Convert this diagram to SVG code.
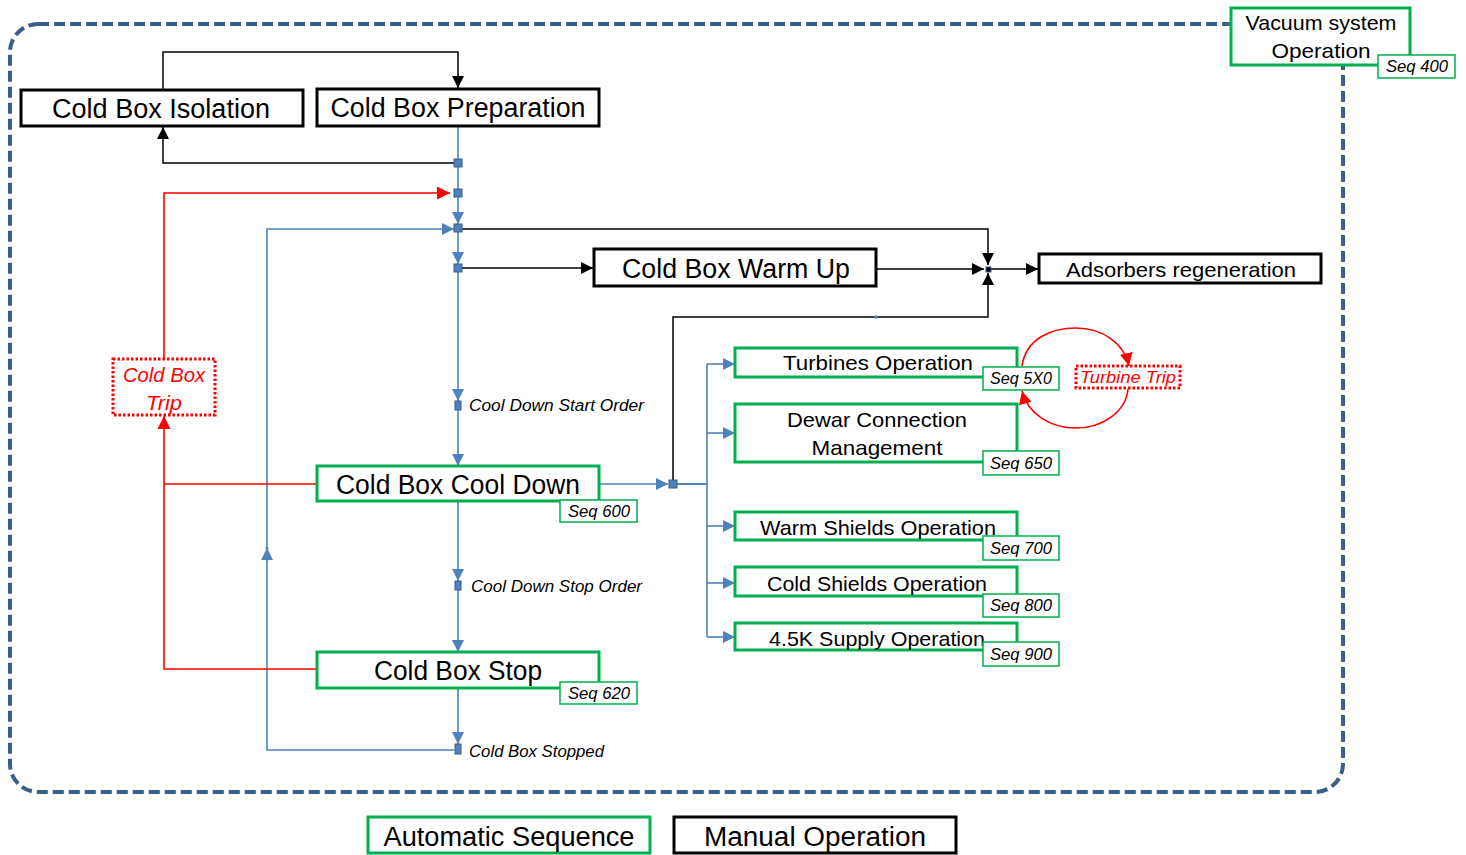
<svg xmlns="http://www.w3.org/2000/svg" width="1466" height="855" viewBox="0 0 1466 855">
<style>
.bg{fill:#fff}
.frame{fill:none;stroke:#3b5d8a;stroke-width:4;stroke-dasharray:11 5}
.man{fill:#fff;stroke:#000;stroke-width:3}
.auto{fill:#fff;stroke:#00b050;stroke-width:3}
.seq{fill:#fff;stroke:#00b050;stroke-width:1.5}
.trip{fill:#fff;stroke:#ff0000;stroke-width:3;stroke-dasharray:2.5 2}
.t{font-family:"Liberation Sans",Arial,sans-serif;fill:#000;text-anchor:middle}
.big{font-size:27px}
.mid{font-size:21px}
.sq{font-family:"Liberation Sans",Arial,sans-serif;font-style:italic;font-size:16px;fill:#000;text-anchor:middle}
.lbl{font-family:"Liberation Sans",Arial,sans-serif;font-style:italic;font-size:16px;fill:#000}
.red{fill:#ff0000;font-style:italic}
.cb{fill:none;stroke:#4f81bd;stroke-width:1.6}
.ck{fill:none;stroke:#000;stroke-width:1.5}
.cr{fill:none;stroke:#ff0000;stroke-width:1.6}
.jn{fill:#4f81bd;stroke:#385d8a;stroke-width:1}
</style>
<defs>
<marker id="ab" viewBox="0 0 10 10" refX="10" refY="5" markerWidth="12" markerHeight="12" markerUnits="userSpaceOnUse" orient="auto"><path d="M0,0 L10,5 L0,10 z" fill="#4f81bd"/></marker>
<marker id="ak" viewBox="0 0 10 10" refX="10" refY="5" markerWidth="12" markerHeight="12" markerUnits="userSpaceOnUse" orient="auto"><path d="M0,0 L10,5 L0,10 z" fill="#000"/></marker>
<marker id="ar" viewBox="0 0 10 10" refX="10" refY="5" markerWidth="13" markerHeight="13" markerUnits="userSpaceOnUse" orient="auto"><path d="M0,0 L10,5 L0,10 z" fill="#ff0000"/></marker>
</defs>
<rect class="bg" x="0" y="0" width="1466" height="855"/>
<rect class="frame" x="10" y="24" width="1333" height="768" rx="28"/>

<g id="connectors">
<path class="ck" d="M163,90 V52 H458 V88" marker-end="url(#ak)"/>
<path class="ck" d="M458,163 H163 V127" marker-end="url(#ak)"/>
<path class="ck" d="M462,229 H988 V265" marker-end="url(#ak)"/>
<path class="ck" d="M462,268 H593" marker-end="url(#ak)"/>
<path class="ck" d="M877,269 L984,269" marker-end="url(#ak)"/>
<path class="ck" d="M991,269 H1038" marker-end="url(#ak)"/>
<path class="ck" d="M673,480 V317 H988 V273" marker-end="url(#ak)"/>
<circle cx="876" cy="317" r="1.8" fill="#4f81bd"/>
<path class="cb" d="M458,126 V197"/>
<path class="cb" d="M458,197 V224" marker-end="url(#ab)"/>
<path class="cb" d="M458,232 V264" marker-end="url(#ab)"/>
<path class="cb" d="M458,272 V401" marker-end="url(#ab)"/>
<path class="cb" d="M458,410 V466" marker-end="url(#ab)"/>
<path class="cb" d="M458,502 V581" marker-end="url(#ab)"/>
<path class="cb" d="M458,590 V652" marker-end="url(#ab)"/>
<path class="cb" d="M458,689 V744" marker-end="url(#ab)"/>
<path class="cb" d="M454,750 H267 V229 H454" marker-end="url(#ab)"/>
<path class="cb" d="M267,561 V548" marker-end="url(#ab)"/>
<circle cx="267" cy="548" r="1.5" fill="#4f81bd"/>
<path class="cb" d="M600,484 H668" marker-end="url(#ab)"/>
<path class="cb" style="stroke-width:2" d="M677,484 H707"/>
<path class="cb" d="M707,364 V637"/>
<path class="cb" d="M707,364 H735" marker-end="url(#ab)"/>
<path class="cb" d="M707,433 H735" marker-end="url(#ab)"/>
<path class="cb" d="M707,526 H735" marker-end="url(#ab)"/>
<path class="cb" d="M707,583 H735" marker-end="url(#ab)"/>
<path class="cb" d="M707,637 H735" marker-end="url(#ab)"/>
<path class="cr" d="M164,359 V193 H450" marker-end="url(#ar)"/>
<path class="cr" d="M317,484 H164"/>
<path class="cr" d="M317,669 H164 V416" marker-end="url(#ar)"/>
<path class="cr" d="M1022,366 C1026,338 1052,328 1076,328 C1102,328 1124,343 1129,366" marker-end="url(#ar)"/>
<path class="cr" d="M1128,389 C1126,412 1102,428 1076,428 C1050,428 1028,414 1022,391" marker-end="url(#ar)"/>
<rect class="jn" x="454" y="159" width="8" height="8"/>
<rect class="jn" x="454" y="189" width="8" height="8"/>
<rect class="jn" x="454" y="224" width="8" height="8"/>
<rect class="jn" x="454" y="264" width="8" height="8"/>
<rect class="jn" x="455" y="401" width="6" height="9"/>
<rect class="jn" x="455" y="581" width="6" height="9"/>
<rect class="jn" x="455" y="744" width="6" height="10"/>
<rect class="jn" x="669" y="480" width="8" height="8"/>
<rect x="986" y="267" width="5" height="5" fill="#000" stroke="#385d8a" stroke-width="1"/>
</g>

<g id="n-isolation"><rect class="man" x="21" y="90" width="282" height="36"/><text class="t big" x="161" y="118" textLength="218" lengthAdjust="spacingAndGlyphs">Cold Box Isolation</text></g>
<g id="n-preparation"><rect class="man" x="317" y="89" width="282" height="37"/><text class="t big" x="458" y="117" textLength="255" lengthAdjust="spacingAndGlyphs">Cold Box Preparation</text></g>
<g id="n-warmup"><rect class="man" x="594" y="249" width="282" height="37"/><text class="t big" x="736" y="278" textLength="228" lengthAdjust="spacingAndGlyphs">Cold Box Warm Up</text></g>
<g id="n-adsorbers"><rect class="man" x="1039" y="254" width="282" height="29"/><text class="t mid" x="1181" y="277" textLength="230" lengthAdjust="spacingAndGlyphs">Adsorbers regeneration</text></g>

<g id="n-vacuum"><rect class="auto" x="1231" y="8" width="179" height="57"/><text class="t mid" x="1321" y="30" textLength="151" lengthAdjust="spacingAndGlyphs">Vacuum system</text><text class="t mid" x="1321" y="58" textLength="99" lengthAdjust="spacingAndGlyphs">Operation</text><rect class="seq" x="1378" y="55" width="77" height="23"/><text class="sq" x="1417" y="72" textLength="62" lengthAdjust="spacingAndGlyphs">Seq 400</text></g>

<g id="n-trip"><rect class="trip" x="113" y="359" width="102" height="56"/><text class="t mid red" x="164" y="382" textLength="82" lengthAdjust="spacingAndGlyphs">Cold Box</text><text class="t mid red" x="164" y="410" textLength="36" lengthAdjust="spacingAndGlyphs">Trip</text></g>

<g id="n-cooldown"><rect class="auto" x="317" y="466" width="282" height="35"/><text class="t big" x="458" y="494" textLength="244" lengthAdjust="spacingAndGlyphs">Cold Box Cool Down</text><rect class="seq" x="560" y="500" width="77" height="22"/><text class="sq" x="599" y="517" textLength="62" lengthAdjust="spacingAndGlyphs">Seq 600</text></g>
<g id="n-stop"><rect class="auto" x="317" y="652" width="282" height="36"/><text class="t big" x="458" y="680" textLength="168" lengthAdjust="spacingAndGlyphs">Cold Box Stop</text><rect class="seq" x="560" y="682" width="77" height="22"/><text class="sq" x="599" y="699" textLength="62" lengthAdjust="spacingAndGlyphs">Seq 620</text></g>

<g id="n-turbines"><rect class="auto" x="735" y="348" width="282" height="29"/><text class="t mid" x="878" y="370" textLength="190" lengthAdjust="spacingAndGlyphs">Turbines Operation</text><rect class="seq" x="983" y="367" width="76" height="23"/><text class="sq" x="1021" y="384" textLength="62" lengthAdjust="spacingAndGlyphs">Seq 5X0</text></g>
<g id="n-turbinetrip"><rect class="trip" x="1076" y="366" width="104" height="22"/><text class="t red" style="font-size:17px" x="1128" y="383" textLength="96" lengthAdjust="spacingAndGlyphs">Turbine Trip</text></g>
<g id="n-dewar"><rect class="auto" x="735" y="404" width="282" height="58"/><text class="t mid" x="877" y="427" textLength="180" lengthAdjust="spacingAndGlyphs">Dewar Connection</text><text class="t mid" x="877" y="455" textLength="131" lengthAdjust="spacingAndGlyphs">Management</text><rect class="seq" x="983" y="451" width="76" height="24"/><text class="sq" x="1021" y="469" textLength="62" lengthAdjust="spacingAndGlyphs">Seq 650</text></g>
<g id="n-warmshields"><rect class="auto" x="735" y="512" width="282" height="28"/><text class="t mid" x="878" y="535" textLength="236" lengthAdjust="spacingAndGlyphs">Warm Shields Operation</text><rect class="seq" x="983" y="536" width="76" height="24"/><text class="sq" x="1021" y="554" textLength="62" lengthAdjust="spacingAndGlyphs">Seq 700</text></g>
<g id="n-coldshields"><rect class="auto" x="735" y="567" width="282" height="29"/><text class="t mid" x="877" y="591" textLength="220" lengthAdjust="spacingAndGlyphs">Cold Shields Operation</text><rect class="seq" x="983" y="594" width="76" height="23"/><text class="sq" x="1021" y="611" textLength="62" lengthAdjust="spacingAndGlyphs">Seq 800</text></g>
<g id="n-supply"><rect class="auto" x="735" y="623" width="282" height="27"/><text class="t mid" x="877" y="646" textLength="216" lengthAdjust="spacingAndGlyphs">4.5K Supply Operation</text><rect class="seq" x="983" y="642" width="76" height="24"/><text class="sq" x="1021" y="660" textLength="62" lengthAdjust="spacingAndGlyphs">Seq 900</text></g>

<g id="labels">
<text class="lbl" x="469" y="411" textLength="175" lengthAdjust="spacingAndGlyphs">Cool Down Start Order</text>
<text class="lbl" x="471" y="592" textLength="171" lengthAdjust="spacingAndGlyphs">Cool Down Stop Order</text>
<text class="lbl" x="469" y="757" textLength="135" lengthAdjust="spacingAndGlyphs">Cold Box Stopped</text>
</g>

<g id="legend-auto"><rect class="auto" x="368" y="817" width="282" height="36"/><text class="t big" x="509" y="846" textLength="251" lengthAdjust="spacingAndGlyphs">Automatic Sequence</text></g>
<g id="legend-manual"><rect class="man" x="674" y="817" width="282" height="36"/><text class="t big" x="815" y="846" textLength="222" lengthAdjust="spacingAndGlyphs">Manual Operation</text></g>
</svg>
